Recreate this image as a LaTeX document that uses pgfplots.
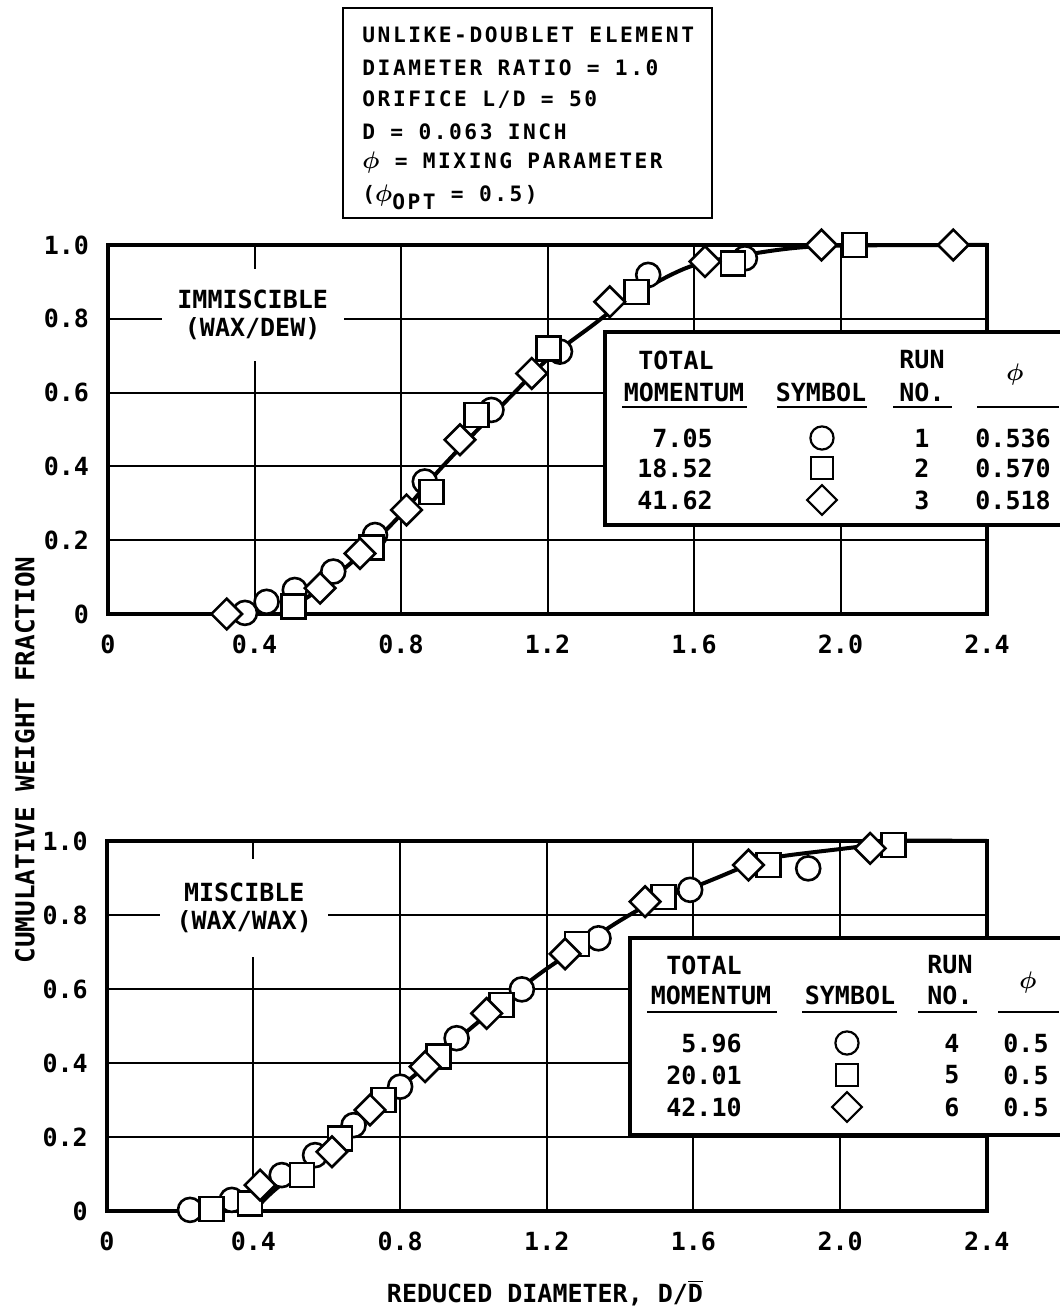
\documentclass[border=0pt]{standalone}
\usepackage{fontspec}
\usepackage{pgfplots}
\pgfplotsset{compat=1.18}
\setmainfont{DejaVu Sans Mono}
\newfontfamily\boxfont[LetterSpace=12]{DejaVu Sans Mono}
\newcommand\tf{\fontsize{12.5}{14}\selectfont\bfseries}
\newcommand\lf{\fontsize{12.5}{14}\selectfont\bfseries}
\newcommand\ph{\ensuremath{\boldsymbol{\phi}}}
\usepackage{amsmath}
\pgfplotsset{
  myax/.style={scale only axis, xmin=0, xmax=2.4, ymin=0, ymax=1,
    xtick={0,0.4,0.8,1.2,1.6,2.0,2.4}, xticklabels={0,0.4,0.8,1.2,1.6,2.0,2.4},
    ytick={0,0.2,0.4,0.6,0.8,1.0}, yticklabels={0,0.2,0.4,0.6,0.8,1.0},
    grid=major, major grid style={black, line width=1pt},
    axis line style={black, line width=1.8pt},
    major tick length=0pt, tick label style={font=\tf},
    xticklabel style={yshift=-7pt}, yticklabel style={xshift=-6pt},
    clip=false,
    /pgf/number format/assume math mode=true},
  curve/.style={black, line width=2pt, smooth, no marks},
  circ/.style={only marks, mark=*, mark size=6pt, mark options={draw=black, fill=white, line width=1.3pt}},
  sqr/.style={only marks, mark=square*, mark size=6pt, mark options={draw=black, fill=white, line width=1.3pt}},
  dia/.style={only marks, mark=square*, mark size=5.4pt, mark options={draw=black, fill=white, line width=1.3pt, rotate=45}},
}
\begin{document}
\begin{tikzpicture}
\path[use as bounding box] (0pt,0pt) rectangle (529.5pt,657.5pt);

% ---------- top axis ----------
\begin{axis}[myax, at={(54pt,350.5pt)}, anchor=south west, width=439.5pt, height=184.5pt]
\addplot[curve] coordinates {(0.47,0.0) (0.52,0.03) (0.58,0.07) (0.7,0.17) (0.8,0.27) (0.9,0.385) (1.0,0.49) (1.1,0.59) (1.2,0.69) (1.32,0.78) (1.4,0.84) (1.5,0.90) (1.6,0.945) (1.75,0.975) (1.95,0.997) (2.4,1.0)};
\addplot[circ] coordinates {(0.374,0.003) (0.433,0.033) (0.51,0.065) (0.615,0.115) (0.729,0.214) (0.865,0.359) (1.047,0.553) (1.234,0.711) (1.475,0.919) (1.739,0.964)};
\addplot[sqr] coordinates {(0.506,0.02) (0.72,0.18) (0.884,0.331) (1.006,0.539) (1.202,0.72) (1.443,0.873) (1.707,0.95) (2.039,1.0)};
\addplot[dia] coordinates {(0.324,0.0) (0.579,0.07) (0.688,0.164) (0.815,0.282) (0.961,0.472) (1.157,0.652) (1.37,0.846) (1.63,0.955) (1.948,1.0) (2.308,1.0)};
\node[fill=white, minimum width=91pt, minimum height=46pt, align=center, font=\lf] at (axis cs:0.395,0.81) {IMMISCIBLE\\(WAX/DEW)};
\end{axis}

% ---------- bottom axis ----------
\begin{axis}[myax, at={(53.4pt,52pt)}, anchor=south west, width=440pt, height=185pt]
\addplot[curve] coordinates {(0.40,0.0) (0.45,0.05) (0.5,0.09) (0.6,0.165) (0.7,0.25) (0.8,0.335) (0.9,0.415) (1.0,0.5) (1.1,0.58) (1.2,0.655) (1.3,0.72) (1.4,0.785) (1.5,0.84) (1.6,0.875) (1.663,0.9) (1.75,0.935) (1.836,0.958) (2.054,0.985) (2.12,1.0) (2.4,1.0)};
\addplot[circ] coordinates {(0.227,0.003) (0.341,0.03) (0.477,0.097) (0.568,0.151) (0.673,0.232) (0.80,0.336) (0.954,0.467) (1.132,0.599) (1.341,0.737) (1.591,0.868) (1.913,0.926)};
\addplot[sqr] coordinates {(0.286,0.005) (0.391,0.021) (0.532,0.097) (0.636,0.196) (0.754,0.30) (0.904,0.417) (1.077,0.557) (1.282,0.722) (1.518,0.849) (1.804,0.935) (2.145,0.989)};
\addplot[dia] coordinates {(0.418,0.07) (0.614,0.16) (0.718,0.273) (0.868,0.39) (1.036,0.534) (1.25,0.695) (1.468,0.836) (1.75,0.935) (2.082,0.98)};
\node[fill=white, minimum width=84pt, minimum height=49pt, align=center, font=\lf] at (axis cs:0.375,0.82) {MISCIBLE\\(WAX/WAX)};
\end{axis}

% ---------- annotations in pixel coordinates ----------
\begin{scope}[shift={(0pt,657.5pt)}, x=0.5pt, y=-0.5pt]
% info box
\draw[line width=1.1pt, fill=white] (343,8) rectangle (712,218);
\begin{scope}[every node/.style={anchor=west, inner sep=0pt, font=\boxfont\fontsize{10.6}{12}\selectfont\bfseries}]
\node at (362,35) {UNLIKE-DOUBLET ELEMENT};
\node at (362,68) {DIAMETER RATIO = 1.0};
\node at (362,100) {ORIFICE L/D = 50};
\node at (362,132) {D = 0.063 INCH};
\node at (362,163) {{\large\ph} = MIXING PARAMETER};
\node at (362,197) {({\large\ph}\raisebox{-4pt}{OPT} = 0.5)};
\end{scope}

% top legend table
\draw[line width=1.6pt, fill=white] (605,332) rectangle (1075,525);
\begin{scope}[every node/.style={inner sep=0pt, font=\lf}]
\node at (676,360) {TOTAL};
\node at (684,392) {MOMENTUM};
\node at (821,392) {SYMBOL};
\node at (922,360) {RUN};
\node at (922,392) {NO.};
\node at (1015,375) {\large\ph};
\draw[line width=1pt] (622,407) -- (747,407) (777,407) -- (867,407) (893,407) -- (952,407) (977,407) -- (1059,407);
\node[anchor=east] at (713,438) {7.05};
\node[anchor=east] at (713,468) {18.52};
\node[anchor=east] at (713,500) {41.62};
\node at (922,438) {1};
\node at (922,468) {2};
\node at (922,500) {3};
\node[anchor=west] at (975,438) {0.536};
\node[anchor=west] at (975,468) {0.570};
\node[anchor=west] at (975,500) {0.518};
\node at (822,438) {\tikz\draw[line width=1.1pt] (0,0) circle (5.8pt);};
\node at (822,468) {\tikz\draw[line width=1.1pt] (0,0) rectangle (11pt,11pt);};
\node at (822,500) {\tikz\draw[line width=1.1pt, rotate=45] (0,0) rectangle (10.5pt,10.5pt);};
\end{scope}

% bottom legend table
\draw[line width=1.6pt, fill=white] (630,938) rectangle (1075,1135);
\begin{scope}[every node/.style={inner sep=0pt, font=\lf}]
\node at (704,965) {TOTAL};
\node at (711,995) {MOMENTUM};
\node at (850,995) {SYMBOL};
\node at (950,965) {RUN};
\node at (950,995) {NO.};
\node at (1028,983) {\large\ph};
\draw[line width=1pt] (647,1012) -- (777,1012) (802,1012) -- (897,1012) (918,1012) -- (977,1012) (998,1012) -- (1059,1012);
\node[anchor=east] at (742,1043) {5.96};
\node[anchor=east] at (742,1075) {20.01};
\node[anchor=east] at (742,1107) {42.10};
\node at (952,1043) {4};
\node at (952,1075) {5};
\node at (952,1107) {6};
\node[anchor=west] at (1003,1043) {0.5};
\node[anchor=west] at (1003,1075) {0.5};
\node[anchor=west] at (1003,1107) {0.5};
\node at (847,1043) {\tikz\draw[line width=1.1pt] (0,0) circle (5.8pt);};
\node at (847,1075) {\tikz\draw[line width=1.1pt] (0,0) rectangle (11pt,11pt);};
\node at (847,1107) {\tikz\draw[line width=1.1pt, rotate=45] (0,0) rectangle (10.5pt,10.5pt);};
\end{scope}

% axis titles
\node[rotate=90, font=\fontsize{13}{15}\selectfont\bfseries, inner sep=0pt] at (25,760) {CUMULATIVE WEIGHT FRACTION};
\node[font=\lf, inner sep=0pt] at (545,1293) {REDUCED DIAMETER, D/$\overline{\mbox{D}}$};
\end{scope}
\end{tikzpicture}
\end{document}
